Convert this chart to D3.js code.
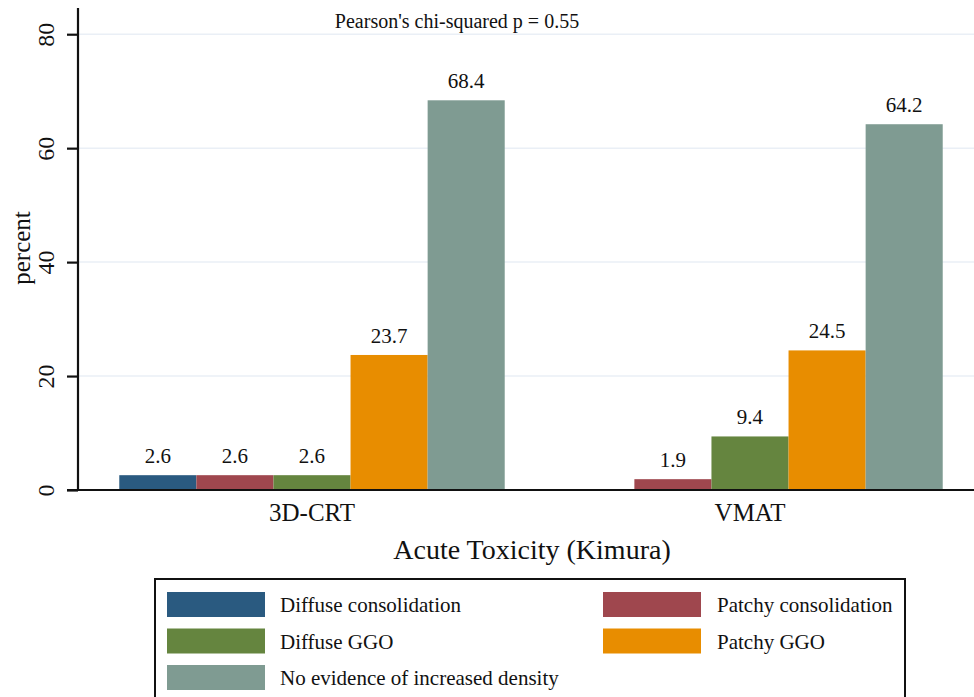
<!DOCTYPE html>
<html>
<head>
<meta charset="utf-8">
<script src="https://cdn.jsdelivr.net/npm/d3@7"></script>
<style>
  body { margin: 0; background: #fff; }
  text { font-family: "Liberation Serif", "Times New Roman", serif; fill: #111; }
</style>
</head>
<body>
<div id="chart"></div>
<script>
(function() {
  var width = 974,
      height = 697;

  // data
  var groups = ["3D-CRT", "VMAT"];
  var categories = ["Diffuse consolidation", "Patchy consolidation", "Diffuse GGO", "Patchy GGO", "No evidence of increased density"];
  var colors = ["#2a5a80", "#9f474e", "#65853f", "#e88d00", "#7f9b92"];
  var crtValues = [2.6, 2.6, 2.6, 23.7, 68.4];
  var vmatValues = [0, 1.9, 9.4, 24.5, 64.2];
  var yTicks = [0, 20, 40, 60, 80];

  var rows = [
    { group: groups[0], values: crtValues },
    { group: groups[1], values: vmatValues }
  ];

  var svg = d3.select("#chart")
    .append("svg")
    .attr("width", width)
    .attr("height", height);

  var left = 78, right = 974, top = 8, bottom = 490;

  var x0 = d3.scaleBand()
    .domain(groups)
    .range([left + 15, left + 891])
    .paddingInner(0.12)
    .paddingOuter(0.06);

  var x1 = d3.scaleBand()
    .domain(categories)
    .range([0, x0.bandwidth()]);

  var y = d3.scaleLinear()
    .domain([0, 84.6])
    .range([bottom, top]);

  // gridlines
  svg.append("g")
    .selectAll("line")
    .data(yTicks.filter(function(d) { return d > 0; }))
    .enter().append("line")
    .attr("x1", left)
    .attr("x2", right)
    .attr("y1", function(d) { return y(d); })
    .attr("y2", function(d) { return y(d); })
    .attr("stroke", "#eaeff6")
    .attr("stroke-width", 1.5);

  // bars
  var g = svg.append("g")
    .selectAll("g")
    .data(rows)
    .enter().append("g")
    .attr("transform", function(d) { return "translate(" + x0(d.group) + ",0)"; });

  var bars = g.selectAll("g")
    .data(function(d) {
      return d.values.map(function(v, i) { return { cat: categories[i], value: v, color: colors[i] }; });
    })
    .enter().append("g")
    .filter(function(d) { return d.value > 0; });

  bars.append("rect")
    .attr("x", function(d) { return x1(d.cat); })
    .attr("width", x1.bandwidth())
    .attr("y", function(d) { return y(d.value); })
    .attr("height", function(d) { return bottom - y(d.value); })
    .attr("fill", function(d) { return d.color; });

  bars.append("text")
    .attr("x", function(d) { return x1(d.cat) + x1.bandwidth() / 2; })
    .attr("y", function(d) { return y(d.value) - 12; })
    .attr("text-anchor", "middle")
    .style("font-size", "21px")
    .text(function(d) { return d.value.toFixed(1); });

  // y axis
  var yAxis = d3.axisLeft(y)
    .tickValues(yTicks)
    .tickSize(11)
    .tickPadding(0)
    .tickFormat(d3.format("d"));

  var ya = svg.append("g")
    .attr("transform", "translate(" + left + ",0)")
    .call(yAxis);
  ya.attr("font-family", null);
  ya.select(".domain")
    .attr("d", "M0," + top + "V" + bottom)
    .attr("stroke", "#111")
    .attr("stroke-width", 2.2);
  ya.selectAll(".tick line").attr("stroke", "#111").attr("stroke-width", 2.2);
  ya.selectAll(".tick text")
    .attr("x", 0)
    .attr("y", 0)
    .attr("transform", "translate(-32,0) rotate(-90)")
    .attr("text-anchor", "middle")
    .attr("dy", "0.35em")
    .attr("fill", "#111")
    .style("font-size", "24px");

  // x axis
  var xAxis = d3.axisBottom(x0).tickSize(0).tickPadding(13);
  var xa = svg.append("g")
    .attr("transform", "translate(0," + bottom + ")")
    .call(xAxis);
  xa.attr("font-family", null);
  xa.select(".domain")
    .attr("d", "M" + (left - 11) + ",0H" + right)
    .attr("stroke", "#111")
    .attr("stroke-width", 2.2);
  xa.selectAll(".tick text")
    .style("font-size", "25px")
    .attr("fill", "#111");

  // titles
  svg.append("text")
    .attr("x", (left + right) / 2 + 6)
    .attr("y", 559)
    .attr("text-anchor", "middle")
    .style("font-size", "28px")
    .text("Acute Toxicity (Kimura)");

  svg.append("text")
    .attr("transform", "translate(21,248) rotate(-90)")
    .attr("text-anchor", "middle")
    .attr("dy", "0.35em")
    .style("font-size", "25px")
    .text("percent");

  svg.append("text")
    .attr("x", 457)
    .attr("y", 28)
    .attr("text-anchor", "middle")
    .style("font-size", "20px")
    .text("Pearson's chi-squared p = 0.55");

  // legend
  var legend = svg.append("g");
  legend.append("rect")
    .attr("x", 155)
    .attr("y", 579)
    .attr("width", 750)
    .attr("height", 130)
    .attr("fill", "#fff")
    .attr("stroke", "#111")
    .attr("stroke-width", 2);

  var legendOrder = [0, 1, 2, 3, 4];
  var item = legend.selectAll(".item")
    .data(legendOrder)
    .enter().append("g")
    .attr("class", "item")
    .attr("transform", function(i) {
      var col = i % 2, row = Math.floor(i / 2);
      return "translate(" + (col === 0 ? 167 : 603) + "," + (592 + row * 36.5) + ")";
    });

  item.append("rect")
    .attr("width", 98)
    .attr("height", 25)
    .attr("fill", function(i) { return colors[i]; });

  item.append("text")
    .attr("x", function(i) { return i % 2 === 0 ? 113 : 114; })
    .attr("y", 13)
    .attr("dy", "0.35em")
    .style("font-size", "21px")
    .text(function(i) { return categories[i]; });
})();
</script>
</body>
</html>
